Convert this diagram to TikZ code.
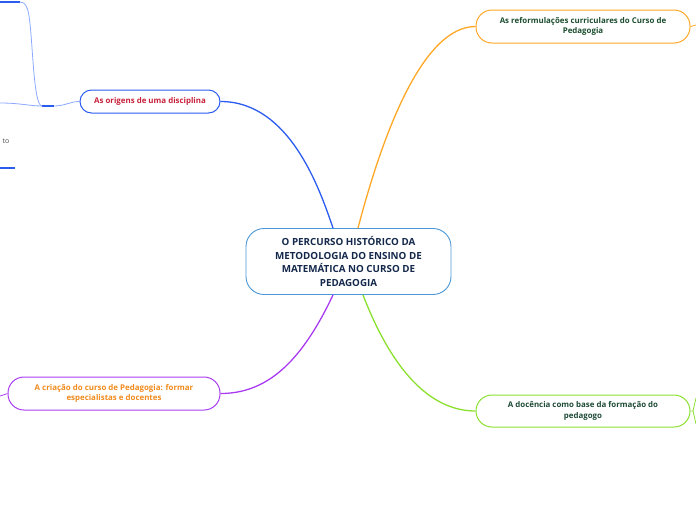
\documentclass[tikz,border=0pt]{standalone}
\usepackage{fontspec}
\setmainfont{Open Sans}
\definecolor{cblue}{HTML}{2B5CF0}
\definecolor{clight}{HTML}{8CA8FF}
\definecolor{corange}{HTML}{FFA726}
\definecolor{cpurple}{HTML}{A93CF0}
\definecolor{cgreen}{HTML}{8BE02E}
\definecolor{ccentral}{HTML}{4A97D8}
\definecolor{tnavy}{HTML}{14284B}
\definecolor{tred}{HTML}{C8203A}
\definecolor{tgreen}{HTML}{1B4D2E}
\definecolor{tgreen2}{HTML}{1D4A35}
\definecolor{torange}{HTML}{F08A1C}
\begin{document}
\begin{tikzpicture}[x=1pt,y=-1pt,
  topic/.style={draw, line width=1pt, align=center, font=\fontsize{7.9}{10.8}\selectfont\bfseries, inner sep=0pt},
  conn/.style={line width=1.3pt},
]
\useasboundingbox (0,0) rectangle (696,520);
% central
\node[draw=ccentral, line width=0.9pt, rounded corners=18pt, minimum width=205pt, minimum height=66pt, align=center, text=tnavy, font=\fontsize{9.8}{13.6}\selectfont\bfseries, inner sep=0pt] (c) at (348.5,261.5)
  {O PERCURSO HISTÓRICO DA\\METODOLOGIA DO ENSINO DE\\MATEMÁTICA NO CURSO DE\\PEDAGOGIA};
% topics
\node[topic, draw=cblue, text=tred, rounded corners=11.5pt, minimum width=140pt, minimum height=23pt] (orig) at (150,101.5) {As origens de uma disciplina};
\node[topic, draw=corange, text=tgreen, rounded corners=16pt, minimum width=214pt, minimum height=33pt] (ref) at (583,26.5) {As reformulações curriculares do Curso de\\Pedagogia};
\node[topic, draw=cpurple, text=torange, rounded corners=16pt, minimum width=212pt, minimum height=33pt] (cri) at (114,393.5) {A criação do curso de Pedagogia: formar\\especialistas e docentes};
\node[topic, draw=cgreen, text=tgreen2, rounded corners=16pt, minimum width=214pt, minimum height=32pt] (doc) at (583,411) {A docência como base da formação do\\pedagogo};
% main connectors
\draw[conn, cblue] ([xshift=-15.5pt]c.north) .. controls (320,190) and (290,101.5) .. (orig.east);
\draw[conn, corange] ([xshift=9.5pt]c.north) .. controls (385,125) and (425,26.5) .. (ref.west);
\draw[conn, cpurple] ([xshift=-15.5pt]c.south) .. controls (300,365) and (265,393.5) .. (cri.east);
\draw[conn, cgreen] ([xshift=14.5pt]c.south) .. controls (392,370) and (430,411) .. (doc.west);
% stubs beyond topics
\coordinate (refout) at (696,25);
\draw[corange, line width=0.8pt] (ref.east) .. controls (693,26.5) .. (refout);
\coordinate (docup) at (696,398);
\coordinate (docdn) at (696,424);
\draw[cgreen, line width=0.8pt] (doc.east) -- (693,411) .. controls (694,405) .. (docup);
\draw[cgreen, line width=0.8pt] (693,411) .. controls (694,417) .. (docdn);
\coordinate (criout) at (0,396);
\draw[cpurple, line width=0.8pt] (cri.west) -- (criout);
% left sub-branch of "As origens"
\coordinate (hubA) at (42,106);
\coordinate (hubB) at (54,106);
\coordinate (topend) at (20,2);
\coordinate (leftend) at (0,103);
\draw[clight, line width=0.8pt] (orig.west) .. controls (70,101.5) and (65,106) .. (hubB);
\draw[cblue, line width=1.6pt] (hubA) -- (hubB);
\draw[clight, line width=0.8pt] (hubA) .. controls (32,106) and (33,20) .. (27,8) .. controls (25,3) and (23,2) .. (topend);
\draw[clight, line width=0.8pt] (hubA) .. controls (30,106) and (20,103) .. (leftend);
\draw[cblue, line width=1.6pt] (0,2) -- (topend);
\node[anchor=east, inner sep=0pt, text=black!70, font=\fontsize{7}{8}\selectfont] (tonode) at (9.5,141.5) {to};
\coordinate (ul1) at (0,168);
\coordinate (ul2) at (15,168);
\draw[cblue, line width=1.6pt] (ul1) -- (ul2);
\end{tikzpicture}
\end{document}
